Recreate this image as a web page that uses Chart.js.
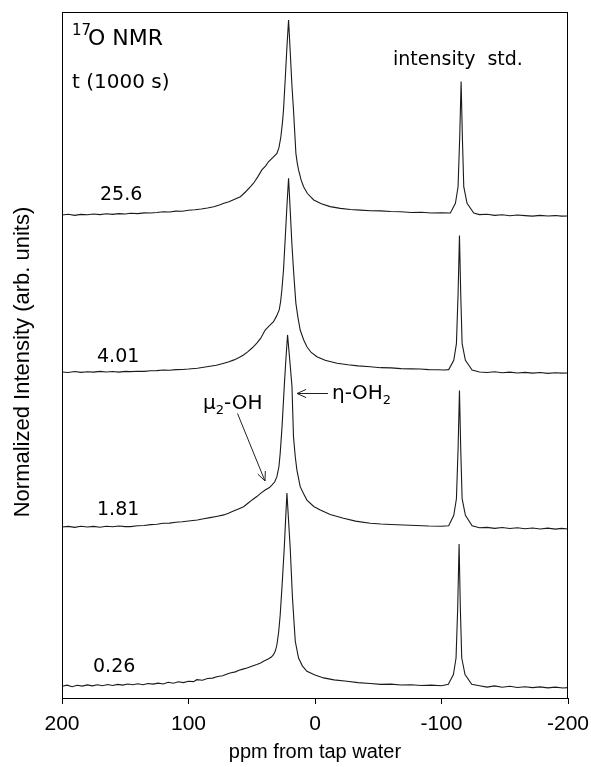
<!DOCTYPE html>
<html>
<head>
<meta charset="utf-8">
<script src="https://cdn.jsdelivr.net/npm/chart.js@4/dist/chart.umd.min.js"></script>
<style>
  html, body { margin: 0; padding: 0; background: #fff; }
  #chart { display: block; }
</style>
</head>
<body>
<canvas id="chart" width="591" height="767"></canvas>
<script>
// stacked 17O NMR spectra, [ppm, normalized intensity]
const runTimes = ['25.6', '4.01', '1.81', '0.26'];   // t (1000 s)
const offsets = [2.477, 1.672, 0.877, 0.06];        // vertical stacking of each trace
const ppmTicks = [200, 100, 0, -100, -200];

const spec256 = [
  [200,0.000],[195,0.004],[190,-0.002],[185,0.003],[180,0.001],[175,0.005],[170,0.002],[165,0.006],
  [160,0.003],[155,0.007],[150,0.005],[146,0.009],[140,0.007],[135,0.011],[130,0.010],[125,0.013],
  [120,0.017],[115,0.015],[110,0.020],[105,0.019],[100,0.024],[95,0.027],[90,0.031],[85,0.036],
  [80,0.042],[75,0.052],[72,0.060],[68,0.068],[64,0.080],[59,0.094],[55,0.118],[51,0.145],
  [48.6,0.163],[45,0.198],[42,0.231],[39,0.252],[36.8,0.273],[33,0.297],[30.1,0.316],[28.5,0.345],
  [27,0.40],[25.8,0.47],[24.9,0.538],[23.5,0.70],[22.2,0.86],[20.9,1.000],[19.6,0.84],[18.3,0.67],
  [17.0,0.538],[16.0,0.42],[15.1,0.316],[14,0.265],[13.0,0.231],[11,0.180],[9,0.145],
  [6,0.110],[3,0.090],[1,0.077],[-5,0.058],[-12,0.043],[-20,0.034],[-28,0.028],[-36,0.025],
  [-44,0.022],[-52,0.021],[-60,0.018],[-68,0.017],[-76,0.013],[-84,0.014],[-92,0.010],[-100,0.011],
  [-107,0.010],[-111,0.060],[-113.1,0.145],[-114.4,0.40],[-115.5,0.684],[-116.5,0.40],[-117.6,0.145],
  [-120.2,0.060],[-125.5,0.010],[-130,0.002],[-136,0.004],[-142,-0.002],[-148,0.001],[-154,-0.004],
  [-160,0.000],[-166,-0.003],[-172,-0.006],[-178,-0.002],[-184,-0.005],[-190,-0.003],[-195,-0.006],[-200,-0.005]
];

const spec401 = [
  [200,0.000],[195,-0.003],[190,0.002],[185,-0.002],[180,0.001],[175,-0.001],[170,0.003],[165,0.000],
  [160,0.002],[155,-0.001],[150,0.003],[146,0.002],[140,0.004],[135,0.003],[130,0.006],[125,0.007],
  [120,0.010],[115,0.009],[110,0.012],[105,0.013],[100,0.015],[93,0.019],[88,0.024],[83,0.029],
  [78,0.034],[72,0.045],[68,0.052],[64,0.062],[60,0.074],[56.5,0.087],[53,0.104],[49.5,0.124],
  [46,0.148],[43,0.172],[39.4,0.215],[36,0.238],[32.8,0.258],[30.5,0.285],[28.3,0.318],[27.2,0.36],
  [26.2,0.42],[24.9,0.523],[23.5,0.69],[22.2,0.85],[20.9,0.993],[19.6,0.83],[18.3,0.66],
  [17.0,0.523],[16.0,0.43],[15.1,0.352],[13.5,0.280],[11.7,0.215],[9,0.165],
  [6.4,0.129],[3,0.100],[-1.5,0.078],[-8,0.060],[-17.4,0.045],[-26,0.037],[-34,0.031],[-43.7,0.027],
  [-52,0.022],[-60,0.021],[-68,0.017],[-76,0.016],[-83,0.015],[-90,0.012],[-97,0.011],[-102,0.010],
  [-105.7,0.012],[-109.7,0.060],[-111.8,0.145],[-113.1,0.40],[-114.2,0.70],[-115.2,0.40],[-116.3,0.145],
  [-118.9,0.060],[-124.2,0.010],[-130,0.000],[-136,-0.003],[-142,0.001],[-148,-0.004],[-154,-0.001],
  [-160,-0.005],[-166,-0.002],[-172,-0.006],[-178,-0.003],[-184,-0.007],[-190,-0.004],[-195,-0.006],[-200,-0.005]
];

const spec181 = [
  [200,0.000],[195,0.003],[190,-0.002],[185,0.004],[180,0.000],[175,0.003],[170,-0.001],[165,0.004],
  [160,0.001],[155,0.005],[150,0.002],[146,0.002],[140,0.006],[135,0.008],[130,0.012],[125,0.014],
  [120,0.019],[115,0.020],[110,0.024],[105,0.027],[100,0.031],[93,0.036],[88,0.042],[83,0.048],
  [78,0.054],[72,0.062],[68,0.072],[64,0.083],[60,0.094],[56.5,0.104],[53,0.122],[49.5,0.140],
  [46,0.156],[42.5,0.175],[39.4,0.190],[36,0.202],[34.1,0.215],[31.8,0.232],[30.1,0.258],[28.5,0.310],
  [27.5,0.379],[26,0.52],[24.3,0.721],[23,0.86],[21.7,0.985],[20,0.86],[18.2,0.721],[17.0,0.462],
  [15.6,0.36],[14.3,0.292],[11.7,0.207],[9,0.170],[6.4,0.138],
  [1,0.105],[-4.2,0.087],[-12,0.064],[-22.6,0.045],[-32,0.030],[-43.7,0.019],[-52,0.015],[-60,0.013],
  [-70,0.010],[-80,0.008],[-90,0.005],[-100,0.004],
  [-105.7,0.006],[-109.7,0.060],[-111.8,0.145],[-113.1,0.40],[-114.2,0.70],[-115.2,0.40],[-116.3,0.145],
  [-118.9,0.060],[-124.2,0.006],[-130,-0.004],[-136,-0.002],[-142,-0.007],[-148,-0.003],[-154,-0.008],
  [-160,-0.004],[-166,-0.009],[-172,-0.005],[-178,-0.010],[-184,-0.006],[-190,-0.011],[-195,-0.007],[-200,-0.010]
];

const spec026 = [
  [200,0.000],[196,0.006],[192,-0.002],[188,0.005],[184,0.001],[180,0.007],[176,0.002],[172,0.008],
  [168,0.003],[164,0.009],[160,0.004],[156,0.010],[152,0.006],[148,0.012],[144,0.008],[140,0.013],
  [136,0.008],[132,0.014],[128,0.011],[124,0.016],[120,0.012],[116,0.021],[112,0.016],[108,0.023],
  [104,0.019],[100,0.026],[96,0.024],[93.4,0.034],[89,0.031],[85,0.040],[81,0.042],[77,0.050],
  [73,0.054],[70,0.062],[67.1,0.068],[63,0.074],[60,0.082],[57,0.088],[53.8,0.094],[50,0.103],
  [46,0.112],[43,0.120],[40.7,0.128],[37,0.140],[34.5,0.150],[32.8,0.162],[31.3,0.182],[30.1,0.213],
  [28.7,0.28],[27.5,0.367],[26,0.52],[24.3,0.709],[23.2,0.86],[22.2,0.991],[20.9,0.85],[19.6,0.709],
  [17.8,0.453],[16.6,0.33],[15.6,0.231],[13.0,0.145],[10,0.105],[6.4,0.077],
  [0,0.058],[-6.8,0.043],[-15,0.033],[-25.3,0.026],[-34,0.019],[-43.7,0.014],[-52,0.010],[-60,0.011],
  [-68,0.007],[-76,0.008],[-84,0.004],[-92,0.006],[-100,0.003],
  [-105.4,0.010],[-109.4,0.060],[-111.5,0.145],[-112.8,0.40],[-113.9,0.73],[-114.9,0.40],[-116.0,0.145],
  [-118.6,0.060],[-123.9,0.010],[-130,0.003],[-136,-0.004],[-142,0.002],[-148,-0.005],[-154,0.000],
  [-160,-0.006],[-166,-0.002],[-172,-0.007],[-178,-0.003],[-184,-0.008],[-190,-0.004],[-196,-0.009],[-200,-0.007]
];

const spectra = [spec256, spec401, spec181, spec026];

const datasets = spectra.map((spec, i) => ({
  label: runTimes[i],
  data: spec.map(([x, y]) => ({ x: x, y: y + offsets[i] })),
  borderColor: '#1a1a1a',
  borderWidth: 1.1,
  pointRadius: 0,
  tension: 0,
  fill: false
}));

const SANS = "'DejaVu Sans', Verdana, sans-serif";
const ARIAL = "'Liberation Sans', Arial, sans-serif";

function arrow(ctx, x1, y1, x2, y2) {
  // open arrow head at (x2, y2)
  const a = Math.atan2(y2 - y1, x2 - x1);
  const len = 10, spread = 0.42;
  ctx.beginPath();
  ctx.moveTo(x1, y1);
  ctx.lineTo(x2, y2);
  ctx.moveTo(x2 - len * Math.cos(a - spread), y2 - len * Math.sin(a - spread));
  ctx.lineTo(x2, y2);
  ctx.lineTo(x2 - len * Math.cos(a + spread), y2 - len * Math.sin(a + spread));
  ctx.stroke();
}

const decorations = {
  id: 'decorations',
  afterDraw(chart) {
    const { ctx, chartArea: a } = chart;
    ctx.save();
    ctx.strokeStyle = '#000';
    ctx.lineWidth = 1;
    ctx.strokeRect(a.left + 0.5, a.top + 0.5, a.right - a.left - 1, a.bottom - a.top);

    ctx.fillStyle = '#000';
    ctx.textBaseline = 'alphabetic';
    ctx.textAlign = 'left';

    // title block
    ctx.font = '15px ' + SANS;
    ctx.fillText('17', 72, 35);
    ctx.font = '22px ' + SANS;
    ctx.fillText('O NMR', 88, 45);
    ctx.font = '20px ' + SANS;
    ctx.fillText('t (1000 s)', 72, 88);

    ctx.font = '19px ' + SANS;
    ctx.fillText('intensity  std.', 393, 65);

    // run-time labels
    const labelPos = [[100, 200], [97, 362], [97, 515], [93, 672]];
    ctx.font = '19px ' + SANS;
    runTimes.forEach((t, i) => ctx.fillText(t, labelPos[i][0], labelPos[i][1]));

    // peak assignments
    ctx.font = '20px ' + SANS;
    ctx.fillText('\u03bc', 203, 409);
    let w = ctx.measureText('\u03bc').width;
    ctx.font = '13px ' + SANS;
    ctx.fillText('2', 203 + w, 414);
    let w2 = ctx.measureText('2').width;
    ctx.font = '20px ' + SANS;
    ctx.fillText('-OH', 203 + w + w2, 409);

    ctx.fillText('\u03b7-OH', 332, 399);
    w = ctx.measureText('\u03b7-OH').width;
    ctx.font = '13px ' + SANS;
    ctx.fillText('2', 332 + w, 404);

    ctx.strokeStyle = '#222';
    arrow(ctx, 237.5, 413.5, 265, 481);
    arrow(ctx, 328, 393.5, 297, 393.5);

    // y axis title
    ctx.font = '22px ' + ARIAL;
    ctx.translate(23, 362);
    ctx.rotate(-Math.PI / 2);
    ctx.textAlign = 'center';
    ctx.textBaseline = 'middle';
    ctx.fillText('Normalized Intensity (arb. units)', 0, 0);
    ctx.restore();
  }
};

new Chart(document.getElementById('chart'), {
  type: 'line',
  data: { datasets: datasets },
  options: {
    responsive: false,
    animation: false,
    devicePixelRatio: 1,
    layout: { autoPadding: false, padding: { left: 62, right: 23, top: 12, bottom: 0 } },
    plugins: { legend: { display: false }, tooltip: { enabled: false } },
    scales: {
      x: {
        type: 'linear',
        min: -200,
        max: 200,
        reverse: true,
        afterBuildTicks: (scale) => { scale.ticks = ppmTicks.map(v => ({ value: v })); },
        afterFit: (scale) => { scale.height = 69; scale.paddingLeft = 0; scale.paddingRight = 0; },
        ticks: {
          color: '#000',
          padding: 8,
          maxRotation: 0,
          font: { family: ARIAL, size: 21 },
          callback: (v) => String(v)
        },
        grid: { display: true, drawOnChartArea: false, drawTicks: true, tickLength: 6, color: '#000' },
        border: { display: true, color: '#000', width: 1 },
        title: {
          display: true,
          text: 'ppm from tap water',
          color: '#000',
          font: { family: ARIAL, size: 20 },
          padding: { top: 0, bottom: 3 }
        }
      },
      y: {
        type: 'linear',
        min: 0,
        max: 3.518,
        display: false
      }
    }
  },
  plugins: [decorations]
});
</script>
</body>
</html>
